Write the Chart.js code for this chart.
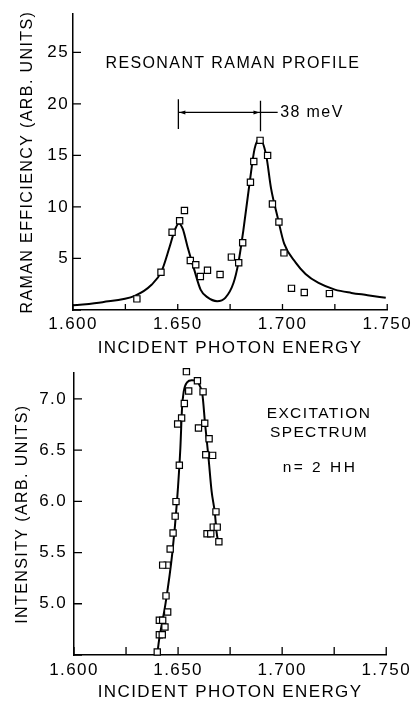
<!DOCTYPE html>
<html>
<head>
<meta charset="utf-8">
<script src="https://cdn.jsdelivr.net/npm/chart.js@4.4.0/dist/chart.umd.min.js"></script>
<style>
  body { margin: 0; background: #fff; }
  #wrap { position: relative; width: 416px; height: 701px; }
  canvas { position: absolute; left: 0; }
  #top { top: 0; }
  #bottom { top: 356px; }
</style>
</head>
<body>
<div id="wrap">
  <canvas id="top" width="416" height="356"></canvas>
  <canvas id="bottom" width="416" height="345"></canvas>
</div>
<script>
// Resonant Raman profile: measured points
const ramanX = [1.6305, 1.642, 1.6473, 1.6509, 1.6532, 1.656, 1.6586, 1.6608, 1.6642, 1.6702, 1.6756, 1.6791,
  1.681, 1.6847, 1.6863, 1.6893, 1.6929, 1.6952, 1.6983, 1.7007, 1.7043, 1.7104, 1.7224];
const ramanY = [1.08, 3.66, 7.55, 8.66, 9.65, 4.81, 4.39, 3.25, 3.85, 3.44, 5.13, 4.59,
  6.53, 12.4, 14.4, 16.46, 15.0, 10.29, 8.54, 5.54, 2.10, 1.69, 1.59];

// Resonant Raman profile: fitted curve
const ramanFitX = [1.600, 1.6141, 1.6297, 1.6375, 1.6422, 1.6461, 1.6485, 1.6505, 1.6524, 1.6547, 1.6579, 1.6609,
  1.6641, 1.6688, 1.6727, 1.6766, 1.6789, 1.6813, 1.6844, 1.6867, 1.6891, 1.6922, 1.6945, 1.6977, 1.7008,
  1.7063, 1.711, 1.7172, 1.725, 1.7329, 1.7406, 1.7493];
const ramanFitY = [0.45, 0.76, 1.40, 2.45, 3.72, 6.11, 7.71, 8.4, 7.87, 6.11, 3.89, 1.98,
  1.25, 0.86, 1.18, 2.62, 4.53, 7.71, 12.48, 15.66, 16.6, 15.03, 11.85, 8.98, 6.44,
  4.6, 3.5, 2.62, 1.98, 1.66, 1.44, 1.18];

// Excitation spectrum n=2 HH: measured points
const excX = [1.654, 1.6593, 1.6551, 1.662, 1.653, 1.6517, 1.6498, 1.6628, 1.6598, 1.6649, 1.6633, 1.6666,
  1.6506, 1.649, 1.6486, 1.6476, 1.6682, 1.6669, 1.6688, 1.6639, 1.6657, 1.6696, 1.6462, 1.6448, 1.6426,
  1.6442, 1.645, 1.6437, 1.641, 1.6426, 1.641, 1.6424, 1.640];
const excY = [7.265, 7.177, 7.077, 7.068, 6.955, 6.813, 6.755, 6.761, 6.716, 6.61, 6.455, 6.448,
  6.352, 5.997, 5.855, 5.69, 5.897, 5.748, 5.748, 5.684, 5.684, 5.606, 5.535, 5.377, 5.377,
  5.077, 4.919, 4.774, 4.839, 4.839, 4.697, 4.697, 4.529];

// Excitation spectrum: fitted curve
const excFitX = [1.6400, 1.6408, 1.6440, 1.6472, 1.6495, 1.6511, 1.6519, 1.6527, 1.6543, 1.6566, 1.6590,
  1.6606, 1.6617, 1.6630, 1.6646, 1.6661, 1.6677, 1.6685, 1.6693];
const excFitY = [4.506, 4.635, 5.006, 5.49, 6.006, 6.52, 6.91, 7.07, 7.16, 7.18, 7.17,
  7.12, 7.04, 6.75, 6.43, 6.10, 5.88, 5.70, 5.60];

// axis ticks
const xMajor = ["1.600", "1.650", "1.700", "1.750"];
const ramanYTicks = ["5", "10", "15", "20", "25"];
const excYTicks = ["5.0", "5.5", "6.0", "6.5", "7.0"];

const FONT = "'Liberation Sans', Arial, sans-serif";

function toPoints(xs, ys) {
  return xs.map((x, i) => ({ x: x, y: ys[i] }));
}

// letter spacing like the hand lettering of the original
const spacing = {
  id: "spacing",
  beforeLayout(chart) { chart.ctx.letterSpacing = "1.4px"; },
  beforeDraw(chart) { chart.ctx.letterSpacing = "1.4px"; },
};

// tick marks pointing into the plot
const innerTicks = {
  id: "innerTicks",
  afterDraw(chart, args, opts) {
    const { ctx, chartArea } = chart;
    const xs = chart.scales.x;
    const ys = chart.scales.y;
    ctx.save();
    ctx.strokeStyle = "#000";
    ctx.lineWidth = 1.3;
    ctx.beginPath();
    xs.ticks.forEach((t) => {
      const px = xs.getPixelForValue(t.value);
      ctx.moveTo(px, chartArea.bottom);
      ctx.lineTo(px, chartArea.bottom - opts.xLen);
    });
    ys.ticks.forEach((t) => {
      const py = ys.getPixelForValue(t.value);
      ctx.moveTo(chartArea.left, py);
      ctx.lineTo(chartArea.left + opts.yLen, py);
    });
    ctx.stroke();
    ctx.restore();
  },
};

// text labels placed in data coordinates
const notes = {
  id: "notes",
  afterDatasetsDraw(chart, args, opts) {
    const { ctx } = chart;
    const xs = chart.scales.x;
    const ys = chart.scales.y;
    ctx.save();
    ctx.fillStyle = "#000";
    ctx.textBaseline = "middle";
    (opts.texts || []).forEach((t) => {
      ctx.font = t.size + "px " + FONT;
      ctx.letterSpacing = (t.spacing || 1.4) + "px";
      ctx.textAlign = t.align || "center";
      ctx.fillText(t.text, xs.getPixelForValue(t.x), ys.getPixelForValue(t.y));
    });
    // 38 meV separation marker
    const m = opts.marker;
    if (m) {
      const x1 = xs.getPixelForValue(m.x1);
      const x2 = xs.getPixelForValue(m.x2);
      const xe = xs.getPixelForValue(m.xEnd);
      const yl = ys.getPixelForValue(m.y);
      ctx.strokeStyle = "#000";
      ctx.lineWidth = 1.3;
      ctx.beginPath();
      ctx.moveTo(x1, ys.getPixelForValue(m.top1));
      ctx.lineTo(x1, ys.getPixelForValue(m.bot1));
      ctx.moveTo(x2, ys.getPixelForValue(m.top2));
      ctx.lineTo(x2, ys.getPixelForValue(m.bot2));
      ctx.moveTo(x1, yl);
      ctx.lineTo(xe, yl);
      ctx.stroke();
      ctx.beginPath();
      ctx.moveTo(x1 + 1, yl);
      ctx.lineTo(x1 + 7, yl - 2);
      ctx.lineTo(x1 + 7, yl + 2);
      ctx.closePath();
      ctx.moveTo(x2 - 1, yl);
      ctx.lineTo(x2 - 7, yl - 2);
      ctx.lineTo(x2 - 7, yl + 2);
      ctx.closePath();
      ctx.fill();
    }
    ctx.restore();
  },
};

function xTickLabel(v) {
  const k = Math.round(v * 1000);
  const s = (k / 1000).toFixed(3);
  return xMajor.includes(s) ? s : "";
}

function makeChart(id, cfg) {
  return new Chart(document.getElementById(id), {
    type: "scatter",
    data: {
      datasets: [
        {
          data: toPoints(cfg.px, cfg.py),
          pointStyle: "rect",
          pointRadius: 4.4,
          backgroundColor: "#fff",
          borderColor: "#000",
          borderWidth: 1.2,
          clip: false,
        },
        {
          data: toPoints(cfg.fx, cfg.fy),
          showLine: true,
          pointRadius: 0,
          borderColor: "#000",
          borderWidth: 2,
          cubicInterpolationMode: "monotone",
        },
      ],
    },
    options: {
      responsive: false,
      animation: false,
      devicePixelRatio: 1,
      layout: { autoPadding: false, padding: cfg.padding },
      plugins: {
        legend: { display: false },
        tooltip: { enabled: false },
        innerTicks: { xLen: cfg.xLen, yLen: 8 },
        notes: { texts: cfg.texts, marker: cfg.marker },
      },
      scales: {
        x: {
          type: "linear",
          min: 1.6,
          max: 1.75,
          afterFit: (s) => { s.height = cfg.xHeight; },
          grid: { display: false, drawTicks: false },
          border: { display: true, color: "#000", width: 1.5 },
          ticks: {
            stepSize: 0.025,
            autoSkip: false,
            maxRotation: 0,
            padding: cfg.xPad,
            color: "#000",
            font: { family: FONT, size: 17 },
            callback: xTickLabel,
          },
          title: {
            display: true,
            text: "INCIDENT PHOTON ENERGY",
            color: "#000",
            font: { family: FONT, size: 17 },
            padding: { top: 0, bottom: cfg.xTitlePad },
          },
        },
        y: {
          min: cfg.yMin,
          max: cfg.yMax,
          afterFit: (s) => { s.width = cfg.yWidth; },
          grid: { display: false, drawTicks: false },
          border: { display: true, color: "#000", width: 1.5 },
          ticks: {
            stepSize: cfg.yStep,
            includeBounds: false,
            padding: cfg.yPad,
            color: "#000",
            font: { family: FONT, size: 17 },
            callback: (v) => {
              const s = cfg.yFmt(v);
              return cfg.yTicks.includes(s) ? s : "";
            },
          },
          title: {
            display: true,
            text: cfg.yTitle,
            color: "#000",
            font: { family: FONT, size: 16 },
            padding: { top: cfg.yTitlePad, bottom: 0 },
          },
        },
      },
    },
    plugins: [spacing, innerTicks, notes],
  });
}

makeChart("top", {
  px: ramanX, py: ramanY, fx: ramanFitX, fy: ramanFitY,
  padding: { left: 0, top: 10, right: 23, bottom: 0 },
  xHeight: 46, yWidth: 73, xPad: 4, yPad: 4, xTitlePad: -3, yTitlePad: 18,
  xLen: 6,
  yMin: 0, yMax: 28.7, yStep: 5, yTicks: ramanYTicks,
  yFmt: (v) => String(Math.round(v * 100) / 100),
  yTitle: "RAMAN EFFICIENCY (ARB. UNITS)",
  texts: [
    { text: "RESONANT RAMAN PROFILE", x: 1.6763, y: 23.95, size: 16 },
    { text: "38 meV", x: 1.6989, y: 19.17, size: 16, align: "left" },
  ],
  marker: { x1: 1.6503, x2: 1.6895, xEnd: 1.6977, y: 19.17, top1: 20.44, bot1: 17.57, top2: 20.3, bot2: 17.35 },
});

makeChart("bottom", {
  px: excX, py: excY, fx: excFitX, fy: excFitY,
  padding: { left: 0, top: 15, right: 26, bottom: 0 },
  xHeight: 46, yWidth: 74, xPad: 5, yPad: 7, xTitlePad: -2, yTitlePad: 13,
  xLen: 8,
  yMin: 4.5, yMax: 7.25, yStep: 0.5, yTicks: excYTicks,
  yFmt: (v) => (Math.round(v * 10) / 10).toFixed(1),
  yTitle: "INTENSITY (ARB. UNITS)",
  texts: [
    { text: "EXCITATION", x: 1.7177, y: 6.858, size: 15.5 },
    { text: "SPECTRUM", x: 1.7177, y: 6.674, size: 15.5 },
    { text: "n= 2 HH", x: 1.7182, y: 6.325, size: 15.5, spacing: 2.5 },
  ],
});
</script>
</body>
</html>
